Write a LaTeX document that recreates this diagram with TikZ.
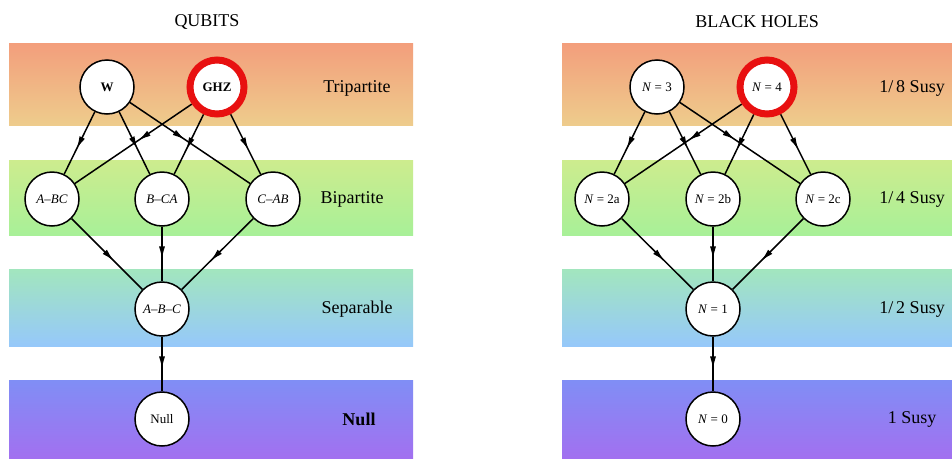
\documentclass[tikz,border=0pt]{standalone}
\usepackage{fontspec}
\setmainfont{Liberation Serif}
\usetikzlibrary{arrows.meta,decorations.markings}
\pgfdeclarelayer{bg}
\pgfdeclarelayer{edges}
\pgfsetlayers{bg,edges,main}
\definecolor{bandAtop}{RGB}{243,158,124}
\definecolor{bandAbot}{RGB}{238,204,140}
\definecolor{bandBtop}{RGB}{205,236,142}
\definecolor{bandBbot}{RGB}{168,240,152}
\definecolor{bandCtop}{RGB}{162,230,190}
\definecolor{bandCbot}{RGB}{150,200,250}
\definecolor{bandDtop}{RGB}{128,142,245}
\definecolor{bandDbot}{RGB}{162,112,240}
\definecolor{ringred}{RGB}{232,16,16}
\tikzset{
  x=1pt, y=-1pt,
  state/.style={circle, draw=black, line width=1.5pt, fill=white, minimum size=54pt, inner sep=0pt, font=\fontsize{13}{14}\selectfont},
  hot/.style={state, draw=ringred, line width=7pt, minimum size=54pt},
  lab/.style={font=\fontsize{18}{20}\selectfont},
  ttl/.style={font=\fontsize{18}{20}\selectfont},
  flow/.style={draw=black, line width=1.5pt, postaction={decorate},
    decoration={markings, mark=at position #1 with {\arrow{Latex[length=13pt,width=6pt]}}}},
}
\begin{document}
\begin{tikzpicture}
\useasboundingbox (0,0) rectangle (952,458);
% bands
\begin{pgfonlayer}{bg}
\fill[white] (0,0) rectangle (952,458);
\foreach \xa/\xb in {9/413, 562/952}{
  \shade[top color=bandAtop, bottom color=bandAbot] (\xa,125) rectangle (\xb,43);
  \shade[top color=bandBtop, bottom color=bandBbot] (\xa,235) rectangle (\xb,160);
  \shade[top color=bandCtop, bottom color=bandCbot] (\xa,346) rectangle (\xb,269);
  \shade[top color=bandDtop, bottom color=bandDbot] (\xa,458) rectangle (\xb,380);
}
\end{pgfonlayer}
% titles
\node[ttl] (tq) at (207,22) {QUBITS};
\node[ttl] (tb) at (757,22) {BLACK HOLES};
% left nodes
\node[state] (W) at (107,87) {\textbf{W}};
\node[hot] (GHZ) at (217,87) {\textbf{GHZ}};
\node[state] (ABC1) at (52,199) {\textit{A}–\textit{BC}};
\node[state] (BCA) at (162,199) {\textit{B}–\textit{CA}};
\node[state] (CAB) at (273,199) {\textit{C}–\textit{AB}};
\node[state] (ABC) at (162,309) {\textit{A}–\textit{B}–\textit{C}};
\node[state] (Null) at (162,419) {Null};
% left labels
\node[lab] (l1) at (357,88) {Tripartite};
\node[lab] (l2) at (352,199) {Bipartite};
\node[lab] (l3) at (357,309) {Separable};
\node[lab, font=\fontsize{18}{20}\selectfont\bfseries] (l4) at (359,419) {Null};
% right nodes
\node[state] (N3) at (657,87) {\textit{N} = 3};
\node[hot] (N4) at (767,87) {\textit{N} = 4};
\node[state] (N2a) at (602,199) {\textit{N} = 2a};
\node[state] (N2b) at (713,199) {\textit{N} = 2b};
\node[state] (N2c) at (823,199) {\textit{N} = 2c};
\node[state] (N1) at (713,309) {\textit{N} = 1};
\node[state] (N0) at (713,419) {\textit{N} = 0};
% right labels
\node[lab] (r1) at (912,88) {1/\,8 Susy};
\node[lab] (r2) at (912,199) {1/\,4 Susy};
\node[lab] (r3) at (912,309) {1/\,2 Susy};
\node[lab] (r4) at (912,419) {1 Susy};
% edges
\begin{pgfonlayer}{edges}
\foreach \s/\t/\p in {W/ABC1/0.6, W/BCA/0.6, W/CAB/0.46, GHZ/ABC1/0.46, GHZ/BCA/0.6, GHZ/CAB/0.6,
                   ABC1/ABC/0.6, BCA/ABC/0.6, CAB/ABC/0.6, ABC/Null/0.6,
                   N3/N2a/0.6, N3/N2b/0.6, N3/N2c/0.46, N4/N2a/0.46, N4/N2b/0.6, N4/N2c/0.6,
                   N2a/N1/0.6, N2b/N1/0.6, N2c/N1/0.6, N1/N0/0.6}{
  \path[flow=\p] (\s) -- (\t);
}
\end{pgfonlayer}
\end{tikzpicture}
\end{document}
